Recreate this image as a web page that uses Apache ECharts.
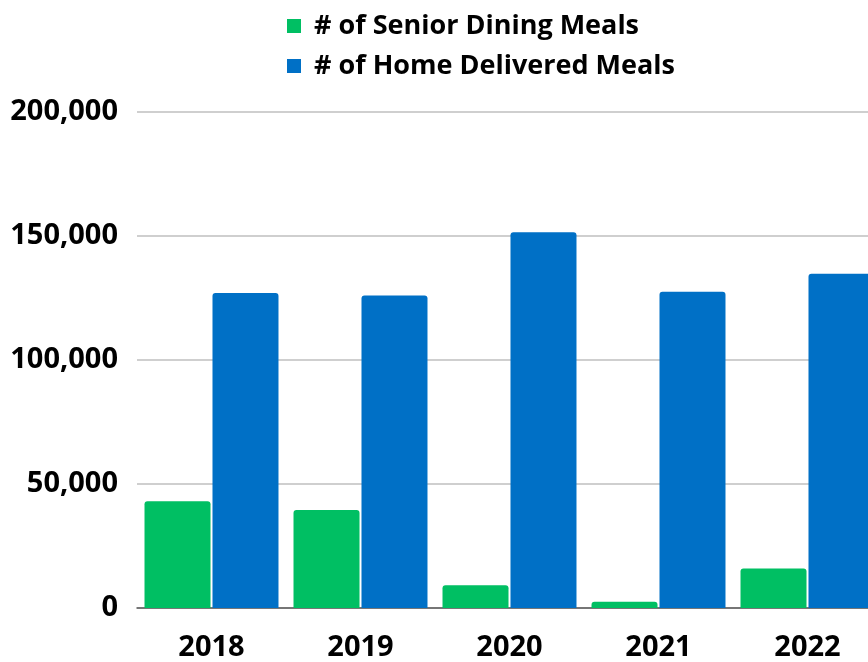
<!DOCTYPE html>
<html>
<head>
    <meta charset="utf-8" />
    <script src="https://cdn.jsdelivr.net/npm/echarts@6/dist/echarts.min.js"></script>
    <title></title>
    <style>
        body { margin: 0; background: #fff; overflow: hidden; }
    </style>
</head>
<body>
    <div id="main" style="width: 900px;height:662px;"></div>

    <script type="text/javascript">

        var years = ['2018', '2019', '2020', '2021', '2022'];
        var seniorDining = [43000, 39500, 9200, 2500, 15900];
        var homeDelivered = [127000, 126000, 151500, 127500, 134800];
        var yTicks = [0, 50000, 100000, 150000, 200000];

        var font = '"Open Sans", sans-serif';

        var myChart = echarts.init(document.getElementById('main'));

        myChart.setOption({
            animation: false,
            legend: {
                orient: 'vertical',
                left: 282,
                top: 6,
                itemWidth: 14,
                itemHeight: 14,
                itemGap: 10,
                icon: 'rect',
                textStyle: {
                    fontFamily: font,
                    fontWeight: 'bold',
                    fontSize: 27,
                    lineHeight: 30,
                    padding: [0, 0, 0, 8],
                    color: '#000'
                },
                data: ['# of Senior Dining Meals', '# of Home Delivered Meals']
            },
            grid: {
                left: 137,
                top: 112,
                height: 497,
                width: 745
            },
            xAxis: {
                type: 'category',
                data: years,
                axisTick: { show: false },
                axisLine: { lineStyle: { color: '#595959', width: 1.5 } },
                axisLabel: {
                    margin: 25,
                    fontFamily: font,
                    fontWeight: 'bold',
                    fontSize: 29,
                    color: '#000'
                }
            },
            yAxis: {
                type: 'value',
                min: yTicks[0],
                max: yTicks[yTicks.length - 1],
                interval: 50000,
                axisLine: { show: false },
                axisTick: { show: false },
                splitLine: { lineStyle: { color: '#bfbfbf', width: 1.5 } },
                axisLabel: {
                    margin: 19,
                    fontFamily: font,
                    fontWeight: 'bold',
                    fontSize: 29,
                    color: '#000',
                    formatter: function (v) {
                        return v.toLocaleString('en-US');
                    }
                }
            },
            series: [{
                name: '# of Senior Dining Meals',
                type: 'bar',
                data: seniorDining,
                barWidth: 66,
                barGap: '3%',
                itemStyle: { color: '#00bf63', borderRadius: [3, 3, 0, 0] }
            }, {
                name: '# of Home Delivered Meals',
                type: 'bar',
                data: homeDelivered,
                barWidth: 66,
                itemStyle: { color: '#0070c6', borderRadius: [3, 3, 0, 0] }
            }]
        });

    </script>
</body>
</html>
